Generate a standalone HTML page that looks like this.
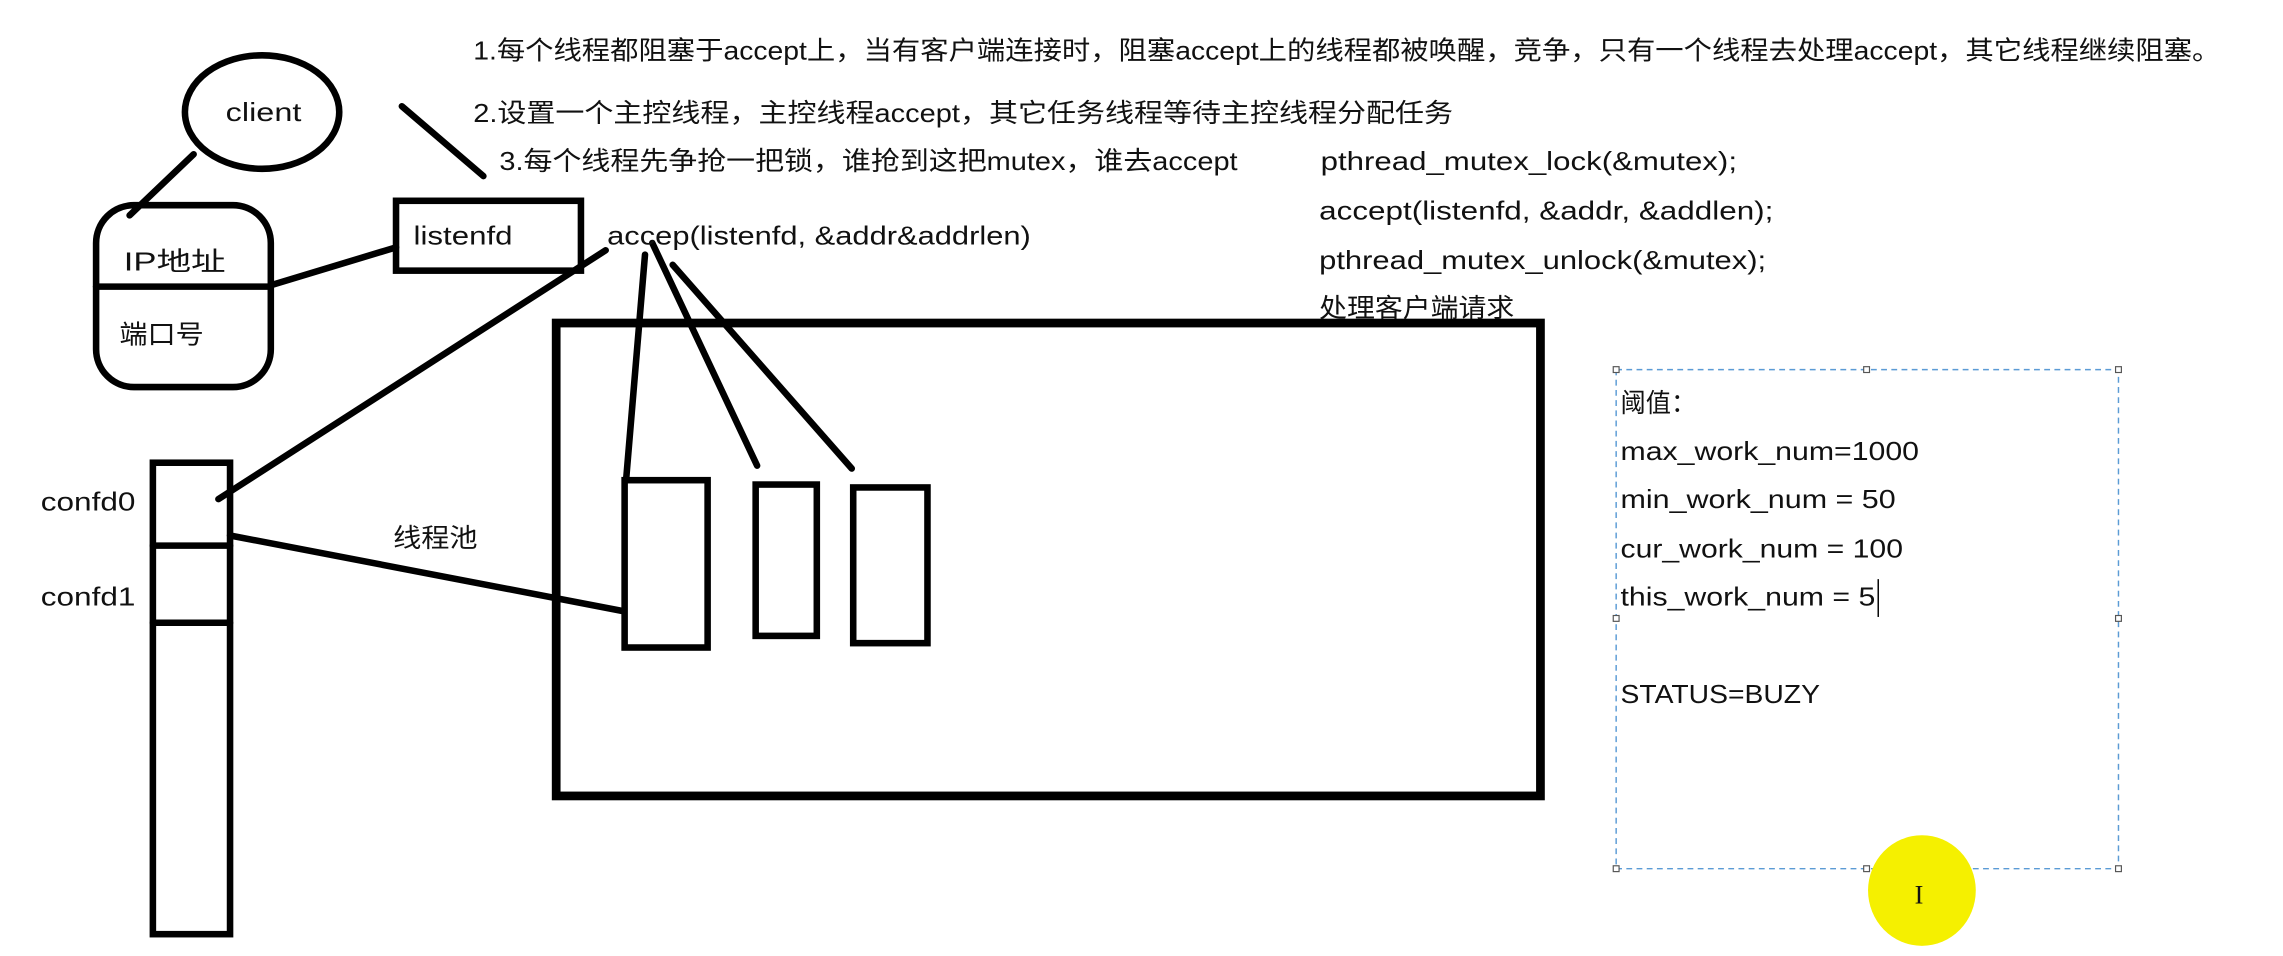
<!DOCTYPE html>
<html><head><meta charset="utf-8"><style>
html,body{margin:0;padding:0;background:#fff;width:2283px;height:956px;overflow:hidden}
svg{display:block}
text{font-family:"Liberation Sans","Noto Sans CJK SC",sans-serif;font-size:18px;fill:#111}
</style></head><body>
<svg width="2283" height="956" viewBox="0 0 1568 657" preserveAspectRatio="none">
<g stroke="#000" stroke-width="4.5" fill="none" stroke-linecap="round">
<ellipse cx="180" cy="77" rx="53" ry="39"/>
<line x1="276" y1="73" x2="332" y2="121"/>
<line x1="133" y1="106" x2="89" y2="148"/>
<rect x="66" y="141" width="120" height="125" rx="26"/>
<line x1="66" y1="197" x2="186" y2="197"/>
<line x1="186" y1="196" x2="272" y2="170"/>
<rect x="272" y="138" width="127" height="48"/>
<line x1="416" y1="172" x2="150" y2="343"/>
<line x1="443" y1="175" x2="430" y2="330"/>
<line x1="448" y1="167" x2="520" y2="320"/>
<line x1="462" y1="182" x2="585" y2="322"/>
<rect x="382" y="222" width="676" height="325" stroke-width="6"/>
<rect x="429" y="330" width="57" height="115"/>
<rect x="519" y="333" width="42" height="104"/>
<rect x="586" y="335" width="51" height="107"/>
<rect x="105" y="318" width="53" height="324"/>
<line x1="105" y1="375" x2="158" y2="375"/>
<line x1="105" y1="428" x2="158" y2="428"/>
<line x1="158" y1="368" x2="428" y2="420"/>
</g>
<g lengthAdjust="spacingAndGlyphs">
<text x="325" y="41" textLength="1200" lengthAdjust="spacingAndGlyphs">1.每个线程都阻塞于accept上，当有客户端连接时，阻塞accept上的线程都被唤醒，竞争，只有一个线程去处理accept，其它线程继续阻塞。</text>
<text x="325" y="84" textLength="673" lengthAdjust="spacingAndGlyphs">2.设置一个主控线程，主控线程accept，其它任务线程等待主控线程分配任务</text>
<text x="343" y="117" textLength="507" lengthAdjust="spacingAndGlyphs">3.每个线程先争抢一把锁，谁抢到这把mutex，谁去accept</text>
<text x="907" y="117" textLength="286" lengthAdjust="spacingAndGlyphs">pthread_mutex_lock(&amp;mutex);</text>
<text x="906" y="151" textLength="312" lengthAdjust="spacingAndGlyphs">accept(listenfd, &amp;addr, &amp;addlen);</text>
<text x="906" y="185" textLength="307" lengthAdjust="spacingAndGlyphs">pthread_mutex_unlock(&amp;mutex);</text>
<text x="906" y="218" textLength="134" lengthAdjust="spacingAndGlyphs">处理客户端请求</text>
<text x="155" y="83" textLength="52" lengthAdjust="spacingAndGlyphs">client</text>
<text x="85" y="186" textLength="70" lengthAdjust="spacingAndGlyphs">IP地址</text>
<text x="82" y="236" textLength="58" lengthAdjust="spacingAndGlyphs">端口号</text>
<text x="284" y="168" textLength="68" lengthAdjust="spacingAndGlyphs">listenfd</text>
<text x="417" y="168" textLength="291" lengthAdjust="spacingAndGlyphs">accep(listenfd, &amp;addr&amp;addrlen)</text>
<text x="28" y="351" textLength="65" lengthAdjust="spacingAndGlyphs">confd0</text>
<text x="28" y="416" textLength="65" lengthAdjust="spacingAndGlyphs">confd1</text>
<text x="270" y="376" textLength="58" lengthAdjust="spacingAndGlyphs">线程池</text>
</g>
<rect x="1110" y="254" width="345" height="343" fill="none" stroke="#5b9bd5" stroke-width="1" stroke-dasharray="4,3"/>
<g fill="#fff" stroke="#555" stroke-width="0.8">
<rect x="1108" y="252" width="4" height="4"/><rect x="1280" y="252" width="4" height="4"/><rect x="1453" y="252" width="4" height="4"/>
<rect x="1108" y="423" width="4" height="4"/><rect x="1453" y="423" width="4" height="4"/>
<rect x="1108" y="595" width="4" height="4"/><rect x="1280" y="595" width="4" height="4"/><rect x="1453" y="595" width="4" height="4"/>
</g>
<text x="1113" y="283" textLength="52" lengthAdjust="spacingAndGlyphs">阈值：</text>
<text x="1113" y="316" textLength="205" lengthAdjust="spacingAndGlyphs">max_work_num=1000</text>
<text x="1113" y="349" textLength="189" lengthAdjust="spacingAndGlyphs">min_work_num = 50</text>
<text x="1113" y="383" textLength="194" lengthAdjust="spacingAndGlyphs">cur_work_num = 100</text>
<text x="1113" y="416" textLength="175" lengthAdjust="spacingAndGlyphs">this_work_num = 5</text>
<line x1="1290" y1="398" x2="1290" y2="424" stroke="#000" stroke-width="1"/>
<text x="1113" y="483" textLength="137" lengthAdjust="spacingAndGlyphs">STATUS=BUZY</text>
<ellipse cx="1320" cy="612" rx="37" ry="38" fill="#f5f000"/>
<text x="1315" y="621" style="font-size:18px;font-family:'Liberation Serif',serif">I</text>
</svg>
</body></html>
